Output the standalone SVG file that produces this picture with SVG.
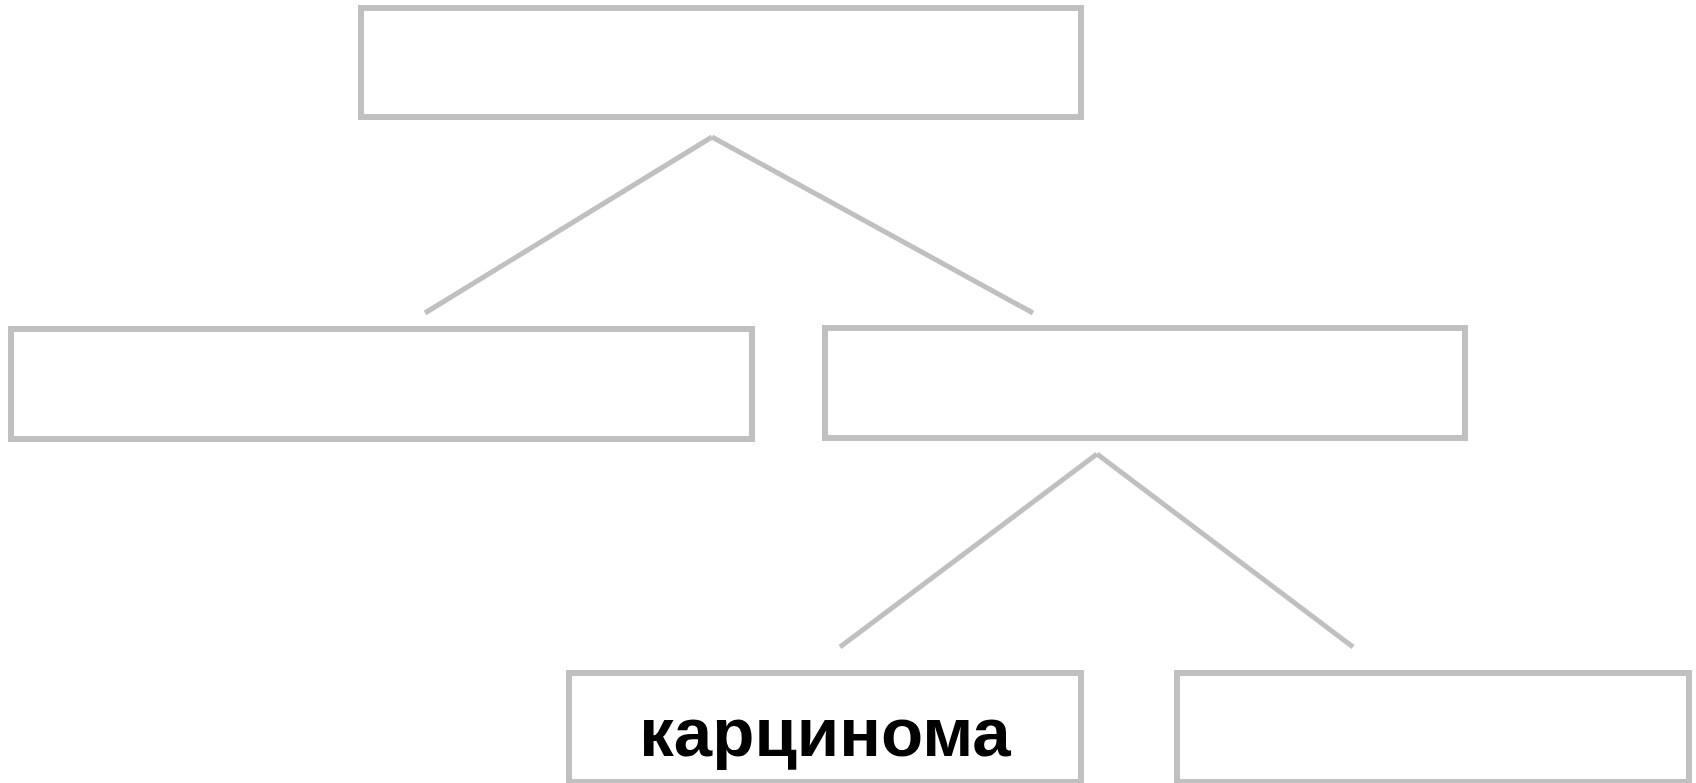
<svg xmlns="http://www.w3.org/2000/svg" width="1696" height="783" viewBox="0 0 1696 783">
<style>
.box{fill:#ffffff;stroke:#c0c0c0;stroke-width:6}
.conn{stroke:#c0c0c0;stroke-width:5;fill:none}
.lbl{font-family:"Liberation Sans",Arial,sans-serif;font-weight:bold;font-size:69px;fill:#000000;text-anchor:middle}
</style>
<rect width="1696" height="783" fill="#ffffff"/>
<g id="connectors">
<line class="conn" x1="712" y1="137" x2="425" y2="313"/>
<line class="conn" x1="712" y1="137" x2="1033" y2="313"/>
<line class="conn" x1="1097" y1="454" x2="840" y2="647"/>
<line class="conn" x1="1097" y1="454" x2="1353" y2="647"/>
</g>
<g id="node-top"><rect class="box" x="361" y="8" width="720" height="109"/></g>
<g id="node-left"><rect class="box" x="11" y="329" width="741" height="110"/></g>
<g id="node-right"><rect class="box" x="825" y="328" width="640" height="110"/></g>
<g id="node-carcinoma"><rect class="box" x="569" y="673" width="512" height="109"/><text class="lbl" x="825" y="756">карцинома</text></g>
<g id="node-bottom-right"><rect class="box" x="1177" y="673" width="512" height="109"/></g>
</svg>
